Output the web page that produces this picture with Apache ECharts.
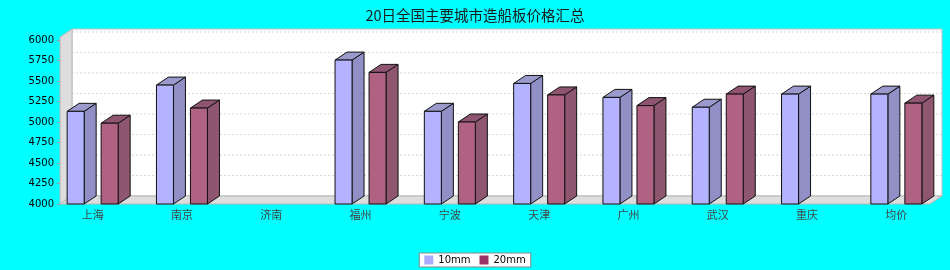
<!DOCTYPE html>
<html><head><meta charset="utf-8">
<script src="https://cdn.jsdelivr.net/npm/echarts@6/dist/echarts.min.js"></script>
<style>html,body{margin:0;padding:0;background:#00FFFF;}#c{width:950px;height:270px;}</style>
</head><body><div id="c"></div>
<script>
var categories = ['上海','南京','济南','福州','宁波','天津','广州','武汉','重庆','均价'];
var s10mm = [5130, 5450, null, 5755, 5130, 5470, 5300, 5180, 5340, 5340];
var s20mm = [4985, 5170, null, 5605, 5000, 5330, 5200, 5340, null, 5230];
var yTicks = [4000, 4250, 4500, 4750, 5000, 5250, 5500, 5750, 6000];
var seriesNames = ['10mm', '20mm'];

var DX = 12, DY = 8;
var faces = [
  {front: '#B3B3FF', top: '#9A9ACC', side: '#9090C6'},
  {front: '#B06283', top: '#8E5470', side: '#8E566F'}
];
var legendColors = ['#AAAAFF', '#993366'];

function bgRender(params, api) {
  var cs = params.coordSys;
  var x0 = cs.x + 12, x1 = cs.x + cs.width - 11;
  var bottom = api.coord([0, yTicks[0]])[1];
  var top = api.coord([0, yTicks[yTicks.length - 1]])[1] - 3;
  var children = [];
  children.push({type: 'rect', shape: {x: x0 + DX, y: top - DY, width: x1 - x0, height: bottom - top},
    style: {fill: '#FFFFFF', stroke: '#C0C0C0', lineWidth: 1}});
  for (var i = 1; i < yTicks.length; i++) {
    var y = api.coord([0, yTicks[i]])[1] - DY;
    children.push({type: 'line', shape: {x1: x0 + DX, y1: y, x2: x1 + DX, y2: y},
      style: {stroke: '#D8D8D8', lineWidth: 1, lineDash: [2, 2]}});
  }
  children.push({type: 'polygon', shape: {points: [[x0, top], [x0 + DX, top - DY], [x0 + DX, bottom - DY], [x0, bottom]]},
    style: {fill: '#DDDDDD', stroke: '#B8B8B8', lineWidth: 1}});
  children.push({type: 'polygon', shape: {points: [[x0, bottom], [x0 + DX, bottom - DY], [x1 + DX, bottom - DY], [x1, bottom]]},
    style: {fill: '#DDDDDD', stroke: '#B8B8B8', lineWidth: 1}});
  return {type: 'group', children: children};
}

function makeBarRender(si) {
  return function (params, api) {
    var v = api.value(1);
    if (v == null || isNaN(v)) return null;
    var c = api.value(0);
    var p0 = api.coord([c, yTicks[0]]);
    var p1 = api.coord([c, v]);
    var band = api.size([1, 0])[0];
    var bw = band * 17 / 89.27;
    var xl = p0[0] + (si === 0 ? -25.5 : 8.5) / 89.27 * band;
    var yt = p1[1], yb = p0[1];
    var f = faces[si];
    var st = {stroke: '#111111', lineWidth: 1};
    return {type: 'group', children: [
      {type: 'polygon', shape: {points: [[xl + bw, yt], [xl + bw + DX, yt - DY], [xl + bw + DX, yb - DY], [xl + bw, yb]]},
        style: Object.assign({fill: f.side}, st)},
      {type: 'polygon', shape: {points: [[xl, yt], [xl + DX, yt - DY], [xl + bw + DX, yt - DY], [xl + bw, yt]]},
        style: Object.assign({fill: f.top}, st)},
      {type: 'rect', shape: {x: xl, y: yt, width: bw, height: yb - yt},
        style: Object.assign({fill: f.front}, st)}
    ]};
  };
}

var chart = echarts.init(document.getElementById('c'));
chart.setOption({
  animation: false,
  backgroundColor: '#00FFFF',
  title: {text: '20日全国主要城市造船板价格汇总', left: 'center', top: 3,
    textStyle: {fontSize: 14.5, fontWeight: 'normal', color: '#1a1a1a', fontFamily: 'Noto Sans CJK SC'}},
  legend: {data: seriesNames, bottom: 3, left: 'center', itemWidth: 9, itemHeight: 9, itemGap: 9,
    icon: 'rect', backgroundColor: '#FFFFFF', borderColor: '#888888', borderWidth: 1, padding: [2, 5],
    textStyle: {fontSize: 10, color: '#000', fontFamily: 'DejaVu Sans'}},
  grid: {left: 48, top: 40, width: 893, height: 164},
  xAxis: {type: 'category', data: categories,
    axisLine: {show: false}, axisTick: {show: false},
    axisLabel: {margin: 5, fontSize: 11, color: '#444', fontFamily: 'Noto Sans CJK SC'}},
  yAxis: {type: 'value', min: 4000, max: 6000, interval: 250, offset: -12,
    axisLine: {show: true, lineStyle: {color: '#999'}},
    axisTick: {show: true, length: 3, lineStyle: {color: '#999'}},
    splitLine: {show: false},
    axisLabel: {margin: 6, fontSize: 10, color: '#000', fontFamily: 'DejaVu Sans',
      formatter: function (v) { return String(v); }}},
  series: [
    {type: 'custom', name: 'bg', renderItem: bgRender, data: [[0, 4000]], z: 1, silent: true, clip: false},
    {type: 'custom', name: seriesNames[0], renderItem: makeBarRender(0), itemStyle: {color: legendColors[0]},
      data: s10mm.map(function (v, i) { return [i, v == null ? '-' : v]; }), z: 2, clip: false},
    {type: 'custom', name: seriesNames[1], renderItem: makeBarRender(1), itemStyle: {color: legendColors[1]},
      data: s20mm.map(function (v, i) { return [i, v == null ? '-' : v]; }), z: 3, clip: false}
  ]
});
</script></body></html>
